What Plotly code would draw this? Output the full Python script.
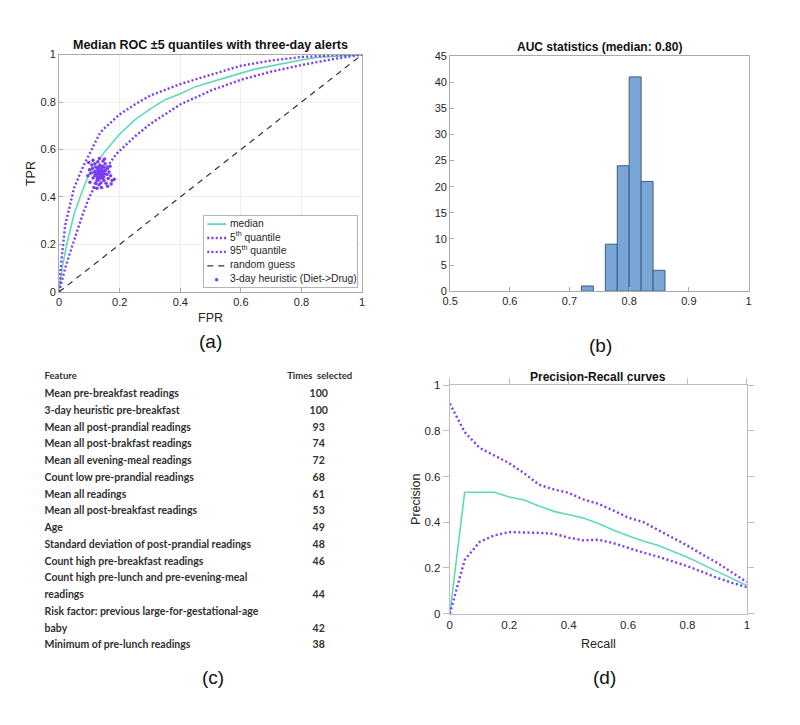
import textwrap
import plotly.graph_objects as go

# page body has an 8px margin: figure fills the rest of the 800x725 window
OFF = 8
W, H = 800 - 2 * OFF, 725 - 2 * OFF

# ---------------- data ----------------
# (a) ROC curves
roc_fpr_med = [0, 0.01, 0.025, 0.05, 0.075, 0.1, 0.15, 0.2, 0.25, 0.3, 0.35, 0.4, 0.45, 0.5,
               0.55, 0.6, 0.65, 0.7, 0.75, 0.8, 0.85, 0.9, 0.95, 1]
roc_tpr_med = [0, 0.10, 0.20, 0.33, 0.42, 0.50, 0.59, 0.665, 0.725, 0.77, 0.81, 0.835, 0.865, 0.885,
               0.905, 0.922, 0.94, 0.953, 0.965, 0.977, 0.988, 0.992, 0.995, 1]
roc_fpr_q05 = [0, 0.02, 0.05, 0.08, 0.1, 0.135, 0.19, 0.25, 0.3, 0.4, 0.5, 0.6, 0.7, 0.8, 0.9, 1]
roc_tpr_q05 = [0, 0.10, 0.22, 0.334, 0.40, 0.486, 0.583, 0.655, 0.707, 0.79, 0.848, 0.894, 0.928,
               0.956, 0.98, 1]
roc_fpr_q95 = [0, 0.005, 0.02, 0.05, 0.08, 0.1, 0.135, 0.15, 0.2, 0.25, 0.3, 0.4, 0.5, 0.6, 0.7,
               0.8, 0.9, 1]
roc_tpr_q95 = [0, 0.10, 0.28, 0.44, 0.53, 0.58, 0.67, 0.69, 0.748, 0.79, 0.827, 0.876, 0.915,
               0.953, 0.975, 0.99, 0.997, 1]
guess_xy = [0, 1]
heur_fpr = [0.130, 0.138, 0.125, 0.142, 0.133, 0.128, 0.145, 0.120, 0.136, 0.150,
            0.127, 0.140, 0.118, 0.147, 0.132, 0.153, 0.122, 0.143, 0.115, 0.135,
            0.110, 0.158, 0.125, 0.148, 0.112, 0.160, 0.118, 0.152, 0.138, 0.105,
            0.165, 0.128, 0.145, 0.108, 0.162, 0.120, 0.155, 0.132, 0.100, 0.170,
            0.098, 0.175, 0.115, 0.160, 0.133, 0.102, 0.182, 0.125, 0.150, 0.095,
            0.168, 0.140, 0.112, 0.172,
            0.134, 0.129, 0.141, 0.137, 0.126, 0.144, 0.131, 0.121, 0.149, 0.139]
heur_tpr = [0.500, 0.505, 0.495, 0.492, 0.512, 0.486, 0.508, 0.508, 0.482, 0.498,
            0.520, 0.520, 0.490, 0.485, 0.475, 0.512, 0.525, 0.530, 0.505, 0.535,
            0.520, 0.495, 0.468, 0.470, 0.480, 0.520, 0.540, 0.540, 0.460, 0.500,
            0.505, 0.548, 0.552, 0.535, 0.478, 0.458, 0.458, 0.452, 0.515, 0.490,
            0.545, 0.470, 0.440, 0.445, 0.562, 0.462, 0.475, 0.437, 0.560, 0.490,
            0.530, 0.440, 0.555, 0.455,
            0.497, 0.507, 0.499, 0.515, 0.480, 0.478, 0.527, 0.497, 0.525, 0.488]

# (b) AUC histogram
auc_bin_lo = [0.72, 0.76, 0.78, 0.80, 0.82, 0.84]
auc_counts = [1, 9, 24, 41, 21, 4]
auc_bin_width = 0.02

# (c) feature table
features = ["Mean pre-breakfast readings", "3-day heuristic pre-breakfast",
            "Mean all post-prandial readings", "Mean all post-brakfast readings",
            "Mean all evening-meal readings", "Count low pre-prandial readings",
            "Mean all readings", "Mean all post-breakfast readings", "Age",
            "Standard deviation of post-prandial readings", "Count high pre-breakfast readings",
            "Count high pre-lunch and pre-evening-meal readings",
            "Risk factor: previous large-for-gestational-age baby",
            "Minimum of pre-lunch readings"]
times_selected = [100, 100, 93, 74, 72, 68, 61, 53, 49, 48, 46, 44, 42, 38]
table_header = ["Feature", "Times  selected"]

# (d) precision-recall
pr_recall = [0, 0.05, 0.1, 0.15, 0.2, 0.25, 0.3, 0.35, 0.4, 0.45, 0.5, 0.55, 0.6, 0.65, 0.7,
             0.75, 0.8, 0.85, 0.9, 0.95, 1.0]
pr_median = [0, 0.532, 0.532, 0.532, 0.511, 0.498, 0.472, 0.448, 0.433, 0.419, 0.395, 0.366,
             0.341, 0.318, 0.300, 0.273, 0.247, 0.216, 0.184, 0.153, 0.123]
pr_upper = [0.92, 0.795, 0.726, 0.694, 0.659, 0.615, 0.565, 0.544, 0.529, 0.500, 0.481, 0.452,
            0.421, 0.402, 0.367, 0.335, 0.298, 0.259, 0.223, 0.180, 0.138]
pr_lower = [0, 0.235, 0.314, 0.343, 0.357, 0.357, 0.354, 0.350, 0.333, 0.321, 0.324, 0.309,
            0.288, 0.268, 0.250, 0.229, 0.208, 0.183, 0.157, 0.135, 0.116]

panel_labels = ["(a)", "(b)", "(c)", "(d)"]

# ---------------- styles ----------------
TEAL = "#5fd9bb"
PURPLE = "#7a3cf0"
TXT = "#262626"
AX = "#a9a9a9"
FONT = "Liberation Sans"
DOT = "2px,2.2px"


def fx(p):
    """window pixel x -> paper fraction"""
    return (p - OFF) / W


def fy(p):
    """window pixel y -> paper fraction"""
    return 1 - (p - OFF) / H


fig = go.Figure()

# ---- (a) ROC ----
roc_traces = [
    dict(x=roc_fpr_med, y=roc_tpr_med, mode="lines", name="median",
         line=dict(color=TEAL, width=1.6)),
    dict(x=roc_fpr_q05, y=roc_tpr_q05, mode="lines", name="5<sup>th</sup> quantile",
         line=dict(color=PURPLE, width=2.4, dash=DOT)),
    dict(x=roc_fpr_q95, y=roc_tpr_q95, mode="lines", name="95<sup>th</sup> quantile",
         line=dict(color=PURPLE, width=2.4, dash=DOT)),
    dict(x=guess_xy, y=guess_xy, mode="lines", name="random guess",
         line=dict(color="#333333", width=1.2, dash="6px,5px")),
    dict(x=heur_fpr, y=heur_tpr, mode="markers", name="3-day heuristic (Diet->Drug)",
         marker=dict(color=PURPLE, size=3.5)),
]
for t in roc_traces:
    fig.add_trace(go.Scatter(**t, xaxis="x", yaxis="y", showlegend=False))

# ---- (b) histogram ----
fig.add_trace(go.Bar(x=[lo + auc_bin_width / 2 for lo in auc_bin_lo], y=auc_counts,
                     width=auc_bin_width,
                     marker=dict(color="#78a6d7", line=dict(color="#3e5c80", width=1)),
                     xaxis="x2", yaxis="y2", showlegend=False))

# ---- (d) precision-recall ----
fig.add_trace(go.Scatter(x=pr_recall, y=pr_median, mode="lines", line=dict(color=TEAL, width=1.6),
                         xaxis="x3", yaxis="y3", showlegend=False))
fig.add_trace(go.Scatter(x=pr_recall, y=pr_upper, mode="lines",
                         line=dict(color=PURPLE, width=2.4, dash="2px,2.6px"),
                         xaxis="x3", yaxis="y3", showlegend=False))
fig.add_trace(go.Scatter(x=pr_recall, y=pr_lower, mode="lines",
                         line=dict(color=PURPLE, width=2.4, dash="2px,2.6px"),
                         xaxis="x3", yaxis="y3", showlegend=False))
fig.add_trace(go.Scatter(x=pr_recall[:1], y=pr_median[:1], mode="none", xaxis="x4", yaxis="y3",
                         showlegend=False, hoverinfo="skip"))

# ---- (c) table as text on hidden axes measured in window pixels ----
ROW0, ROW_H = 395, 17.05
wrapped = [textwrap.wrap(f, width=48, break_on_hyphens=False) for f in features]
feat_lines, feat_y, num_y = [], [], []
k = 0
for lines in wrapped:
    for ln in lines:
        feat_lines.append(ln)
        feat_y.append(ROW0 + k * ROW_H)
        k += 1
    num_y.append(ROW0 + (k - 1) * ROW_H)
tfont = dict(family="Lato", size=10.5, color="#303030", weight="bold")
fig.add_trace(go.Scatter(x=[37] * len(feat_lines), y=feat_y, mode="text",
                         text=feat_lines, textposition="middle right", textfont=tfont,
                         xaxis="x5", yaxis="y5", showlegend=False, hoverinfo="skip"))
fig.add_trace(go.Scatter(x=[315] * len(times_selected), y=num_y, mode="text",
                         text=[str(v) for v in times_selected], textposition="middle center",
                         textfont=tfont, xaxis="x5", yaxis="y5", showlegend=False,
                         hoverinfo="skip"))
fig.add_trace(go.Scatter(x=[37, 283], y=[ROW0 - 18] * 2, mode="text",
                         text=table_header, textposition="middle right",
                         textfont=dict(family="Lato", size=9.5, color="#303030", weight="bold"),
                         xaxis="x5", yaxis="y5", showlegend=False, hoverinfo="skip"))

# ---- (a) legend drawn as an inset panel ----
LEG_X0, LEG_X1, LEG_Y0, LEG_Y1 = 199, 354, 213.3, 286
LEG_ROW0, LEG_ROW_H = 8.4, 14.15
for i, t in enumerate(roc_traces):
    yy = LEG_ROW0 + i * LEG_ROW_H
    if t["mode"] == "lines":
        fig.add_trace(go.Scatter(x=[3, 22], y=[yy, yy], mode="lines", line=t["line"],
                                 xaxis="x6", yaxis="y6", showlegend=False, hoverinfo="skip"))
    else:
        fig.add_trace(go.Scatter(x=[12.5], y=[yy], mode="markers", marker=t["marker"],
                                 xaxis="x6", yaxis="y6", showlegend=False, hoverinfo="skip"))
    fig.add_trace(go.Scatter(x=[26], y=[yy], mode="text", text=[t["name"]],
                             textposition="middle right",
                             textfont=dict(family=FONT, size=10.3, color=TXT),
                             xaxis="x6", yaxis="y6", showlegend=False, hoverinfo="skip"))

tick_font = dict(family=FONT, size=11, color=TXT)

layout = dict(
    width=W, height=H, margin=dict(l=0, r=0, t=0, b=0),
    paper_bgcolor="white", plot_bgcolor="white", showlegend=False,
    font=dict(family=FONT, color=TXT),
    # (a)
    xaxis=dict(domain=[fx(51.7), fx(359)], range=[0, 1], dtick=0.2, anchor="y",
               showgrid=True, gridcolor="#eeeeee", zeroline=False, showline=True, linecolor=AX,
               mirror=True, ticks="inside", ticklen=4, tickcolor=AX, tickfont=tick_font),
    yaxis=dict(domain=[fy(290.7), fy(49.3)], range=[0, 1], dtick=0.2, anchor="x",
               showgrid=True, gridcolor="#eeeeee", zeroline=False, showline=True, linecolor=AX,
               mirror=True, ticks="inside", ticklen=4, tickcolor=AX, tickfont=tick_font),
    # (b)
    xaxis2=dict(domain=[fx(448.3), fx(751)], range=[0.5, 1], dtick=0.1, anchor="y2",
                showgrid=False, zeroline=False, showline=True, linecolor=AX, mirror=True,
                ticks="inside", ticklen=4, tickcolor=AX, tickfont=tick_font),
    yaxis2=dict(domain=[fy(290), fy(50.7)], range=[0, 45], dtick=5, anchor="x2",
                showgrid=False, zeroline=False, showline=True, linecolor=AX, mirror=True,
                ticks="inside", ticklen=4, tickcolor=AX, tickfont=tick_font),
    # (d)
    xaxis3=dict(domain=[fx(448), fx(749.3)], range=[0, 1], dtick=0.2, anchor="y3",
                showgrid=False, zeroline=False, showline=True, linecolor="#bdbdbd", linewidth=1.2,
                mirror=True, ticks="", tickfont=dict(family=FONT, size=11.5, color=TXT)),
    xaxis4=dict(domain=[fx(448), fx(749.3)], range=[0, 1], dtick=0.2, anchor="y3",
                overlaying="x3", side="top", showgrid=False, zeroline=False, showline=False,
                ticks="outside", ticklen=6, tickcolor="#bdbdbd", showticklabels=False),
    yaxis3=dict(domain=[fy(618), fy(385.7)], range=[0, 1], dtick=0.2, anchor="x3",
                showgrid=False, zeroline=False, showline=True, linecolor="#bdbdbd", linewidth=1.2,
                mirror="ticks", ticks="outside", ticklen=6, tickcolor="#bdbdbd",
                tickfont=dict(family=FONT, size=11.5, color=TXT)),
    # table (window-pixel units)
    xaxis5=dict(domain=[fx(OFF), fx(400)], range=[OFF, 400], visible=False, anchor="y5"),
    yaxis5=dict(domain=[fy(725 - OFF), fy(360)], range=[725 - OFF, 360], visible=False,
                anchor="x5"),
    # legend inset (pixel units from its top-left corner)
    xaxis6=dict(domain=[fx(LEG_X0), fx(LEG_X1)], range=[0, LEG_X1 - LEG_X0], anchor="y6",
                showgrid=False, zeroline=False, showline=True, linecolor="#b5b5b5", mirror=True,
                ticks="", showticklabels=False),
    yaxis6=dict(domain=[fy(LEG_Y1), fy(LEG_Y0)], range=[LEG_Y1 - LEG_Y0, 0], anchor="x6",
                showgrid=False, zeroline=False, showline=True, linecolor="#b5b5b5", mirror=True,
                ticks="", showticklabels=False),
)
fig.update_layout(**layout)

ann = []
# titles
ann.append(dict(x=fx(205.4), y=fy(40), text="<b>Median ROC ±5 quantiles with three-day alerts</b>",
                font=dict(family=FONT, size=12.5, color="#111")))
ann.append(dict(x=fx(599.6), y=fy(42), text="<b>AUC statistics (median: 0.80)</b>",
                font=dict(family=FONT, size=12, color="#111")))
ann.append(dict(x=fx(598.6), y=fy(377), text="<b>Precision-Recall curves</b>",
                font=dict(family=FONT, size=12, color="#111")))
# axis titles
ann.append(dict(x=fx(205.4), y=fy(317), text="FPR", font=dict(family=FONT, size=12.5, color=TXT)))
ann.append(dict(x=fx(23), y=fy(170), text="TPR", textangle=-90,
                font=dict(family=FONT, size=12.5, color=TXT)))
ann.append(dict(x=fx(598.6), y=fy(649), text="Recall", font=dict(family=FONT, size=12.5, color=TXT)))
ann.append(dict(x=fx(413), y=fy(502), text="Precision", textangle=-90,
                font=dict(family=FONT, size=12.5, color=TXT)))
# panel labels
for lab, (px, py) in zip(panel_labels, [(205, 341), (601, 345), (208, 683), (605, 683)]):
    ann.append(dict(x=fx(px), y=fy(py), text=lab, font=dict(family=FONT, size=19, color="#111")))
for a in ann:
    a.update(xref="paper", yref="paper", showarrow=False, xanchor="center", yanchor="middle")
fig.update_layout(annotations=ann)

fig.write_html("out.html")
